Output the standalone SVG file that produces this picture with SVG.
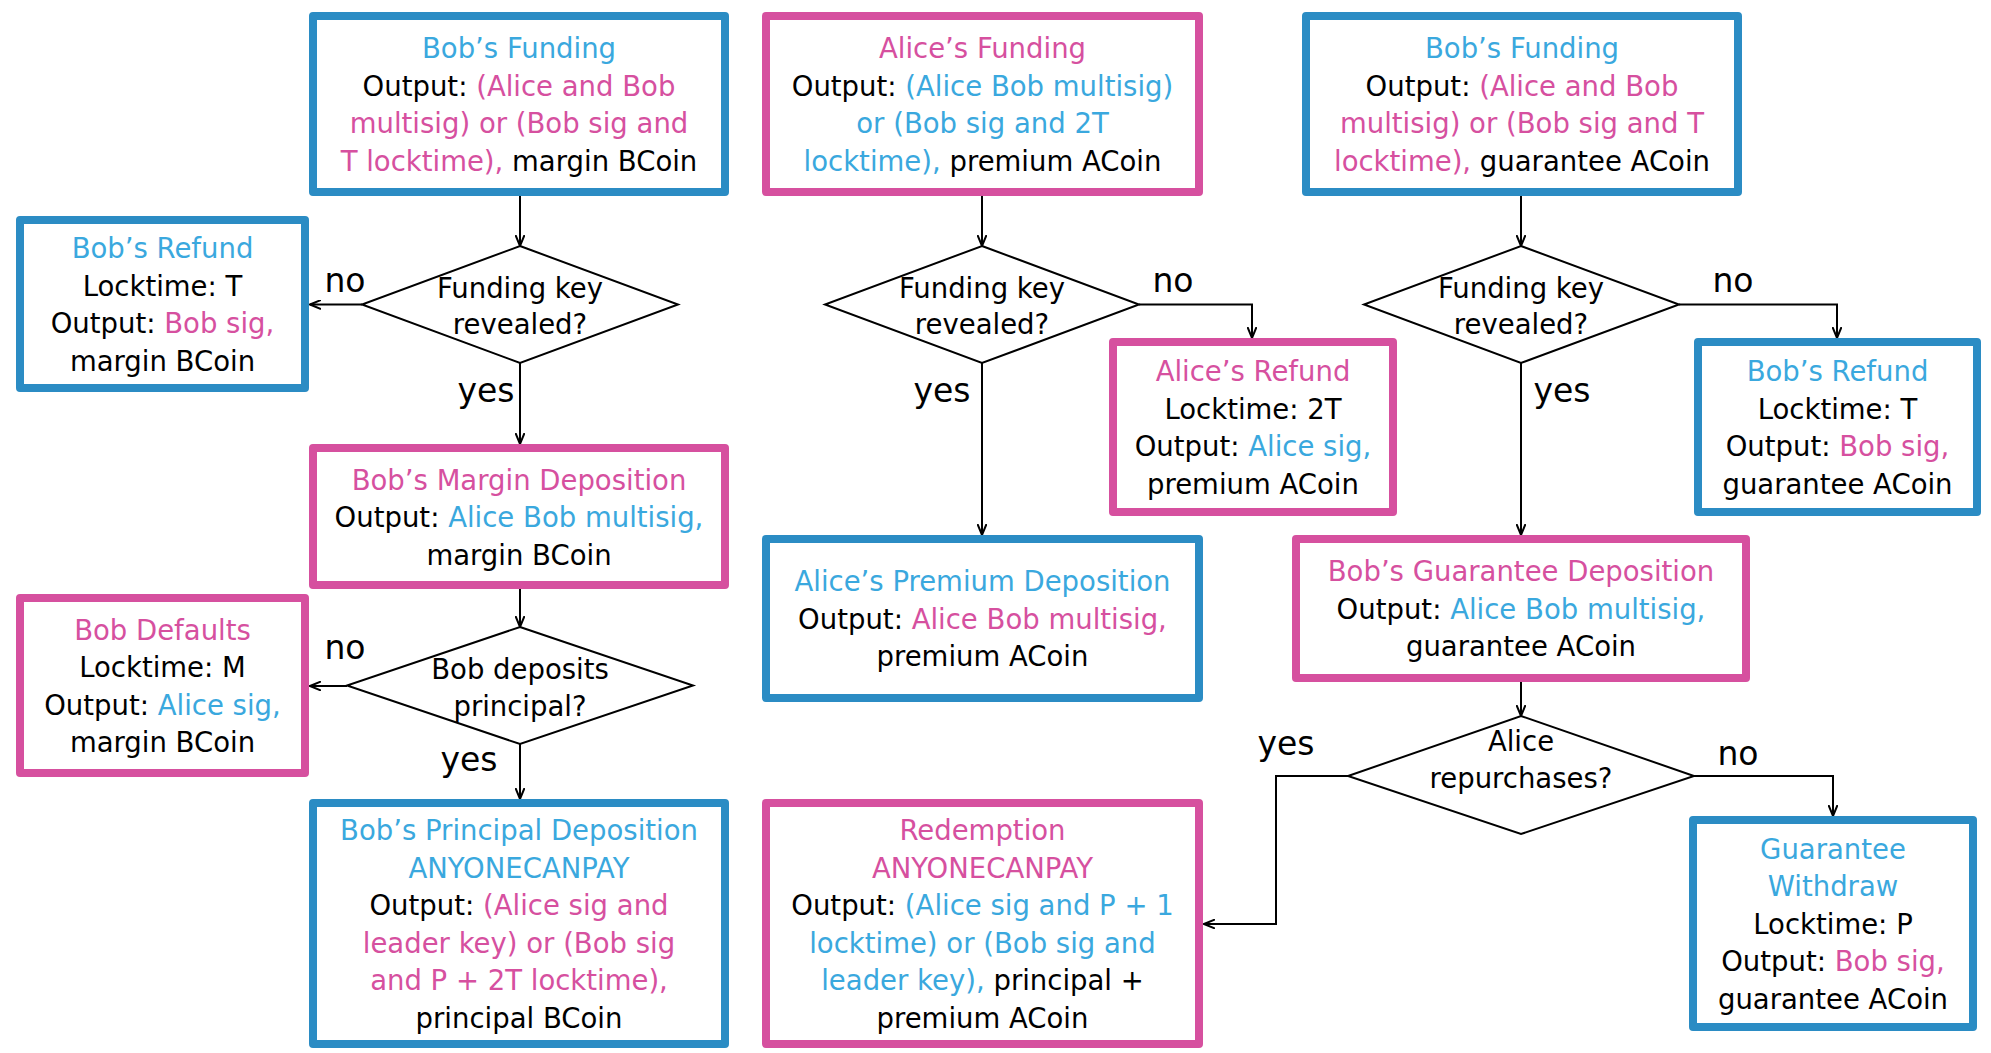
<svg xmlns="http://www.w3.org/2000/svg" width="1991" height="1053" viewBox="0 0 1991 1053">
<style>
.bb{fill:#fff;stroke:#2b8cc4;stroke-width:8;stroke-linejoin:round}
.bp{fill:#fff;stroke:#d6509f;stroke-width:8;stroke-linejoin:round}
.dia{fill:#fff;stroke:#000;stroke-width:2}
text{font-family:"DejaVu Sans",sans-serif;font-size:27.5px;text-anchor:middle;fill:#000}
.b{fill:#3aa8de}
.p{fill:#d6509f}
.lbl{font-size:33px}
.conn{fill:none;stroke:#000;stroke-width:2;marker-end:url(#arr)}
</style>
<defs>
<marker id="arr" viewBox="0 0 12 10" refX="11" refY="5" markerWidth="12" markerHeight="10" markerUnits="userSpaceOnUse" orient="auto">
<path d="M0,0.5 L11,5 L0,9.5" fill="none" stroke="#000" stroke-width="2"/>
</marker>
</defs>

<g id="connectors">
<path class="conn" d="M520,196 V246"/>
<path class="conn" d="M362,304.5 H310"/>
<path class="conn" d="M520,363 V444"/>
<path class="conn" d="M520,589 V627"/>
<path class="conn" d="M347,686 H310"/>
<path class="conn" d="M520,744 V799"/>
<path class="conn" d="M982,196 V246"/>
<path class="conn" d="M1139,304.5 H1252 V338"/>
<path class="conn" d="M982,363 V535"/>
<path class="conn" d="M1521,196 V246"/>
<path class="conn" d="M1679,304.5 H1837 V338"/>
<path class="conn" d="M1521,363 V535"/>
<path class="conn" d="M1521,682 V716"/>
<path class="conn" d="M1348,776 H1276 V924 H1204"/>
<path class="conn" d="M1694,776 H1833 V816"/>
<text class="lbl" x="345" y="292">no</text>
<text class="lbl" x="486" y="402">yes</text>
<text class="lbl" x="345" y="659">no</text>
<text class="lbl" x="469" y="771">yes</text>
<text class="lbl" x="1173" y="292">no</text>
<text class="lbl" x="942" y="402">yes</text>
<text class="lbl" x="1733" y="292">no</text>
<text class="lbl" x="1562" y="402">yes</text>
<text class="lbl" x="1286" y="755">yes</text>
<text class="lbl" x="1738" y="765">no</text>
</g>

<g id="bobs-funding-1">
<rect class="bb" x="313" y="16" width="412" height="176"/>
<text x="519" y="58"><tspan class="b">Bob’s Funding</tspan></text>
<text x="519" y="96">Output: <tspan class="p">(Alice and Bob</tspan></text>
<text x="519" y="133"><tspan class="p">multisig) or (Bob sig and</tspan></text>
<text x="519" y="171"><tspan class="p">T locktime),</tspan> margin BCoin</text>
</g>

<g id="bobs-refund-1">
<rect class="bb" x="20" y="220" width="285" height="168"/>
<text x="162.5" y="258"><tspan class="b">Bob’s Refund</tspan></text>
<text x="162.5" y="296">Locktime: T</text>
<text x="162.5" y="333">Output: <tspan class="p">Bob sig,</tspan></text>
<text x="162.5" y="371">margin BCoin</text>
</g>

<g id="decision-1">
<polygon class="dia" points="520,246 678,304.5 520,363 362,304.5"/>
<text x="520" y="298">Funding key</text>
<text x="520" y="334">revealed?</text>
</g>

<g id="bobs-margin-deposition">
<rect class="bp" x="313" y="448" width="412" height="137"/>
<text x="519" y="490"><tspan class="p">Bob’s Margin Deposition</tspan></text>
<text x="519" y="527">Output: <tspan class="b">Alice Bob multisig,</tspan></text>
<text x="519" y="565">margin BCoin</text>
</g>

<g id="decision-2">
<polygon class="dia" points="520,627 693,685.5 520,744 347,685.5"/>
<text x="520" y="679">Bob deposits</text>
<text x="520" y="716">principal?</text>
</g>

<g id="bob-defaults">
<rect class="bp" x="20" y="598" width="285" height="175"/>
<text x="162.5" y="640"><tspan class="p">Bob Defaults</tspan></text>
<text x="162.5" y="677">Locktime: M</text>
<text x="162.5" y="715">Output: <tspan class="b">Alice sig,</tspan></text>
<text x="162.5" y="752">margin BCoin</text>
</g>

<g id="bobs-principal-deposition">
<rect class="bb" x="313" y="803" width="412" height="241"/>
<text x="519" y="840"><tspan class="b">Bob’s Principal Deposition</tspan></text>
<text x="519" y="878"><tspan class="b">ANYONECANPAY</tspan></text>
<text x="519" y="915">Output: <tspan class="p">(Alice sig and</tspan></text>
<text x="519" y="953"><tspan class="p">leader key) or (Bob sig</tspan></text>
<text x="519" y="990"><tspan class="p">and P + 2T locktime),</tspan></text>
<text x="519" y="1028">principal BCoin</text>
</g>

<g id="alices-funding">
<rect class="bp" x="766" y="16" width="433" height="176"/>
<text x="982.5" y="58"><tspan class="p">Alice’s Funding</tspan></text>
<text x="982.5" y="96">Output: <tspan class="b">(Alice Bob multisig)</tspan></text>
<text x="982.5" y="133"><tspan class="b">or (Bob sig and 2T</tspan></text>
<text x="982.5" y="171"><tspan class="b">locktime),</tspan> premium ACoin</text>
</g>

<g id="decision-3">
<polygon class="dia" points="982,246 1139,304.5 982,363 825,304.5"/>
<text x="982" y="298">Funding key</text>
<text x="982" y="334">revealed?</text>
</g>

<g id="alices-refund">
<rect class="bp" x="1113" y="342" width="280" height="170"/>
<text x="1253" y="381"><tspan class="p">Alice’s Refund</tspan></text>
<text x="1253" y="419">Locktime: 2T</text>
<text x="1253" y="456">Output: <tspan class="b">Alice sig,</tspan></text>
<text x="1253" y="494">premium ACoin</text>
</g>

<g id="alices-premium-deposition">
<rect class="bb" x="766" y="539" width="433" height="159"/>
<text x="982.5" y="591"><tspan class="b">Alice’s Premium Deposition</tspan></text>
<text x="982.5" y="629">Output: <tspan class="p">Alice Bob multisig,</tspan></text>
<text x="982.5" y="666">premium ACoin</text>
</g>

<g id="redemption">
<rect class="bp" x="766" y="803" width="433" height="241"/>
<text x="982.5" y="840"><tspan class="p">Redemption</tspan></text>
<text x="982.5" y="878"><tspan class="p">ANYONECANPAY</tspan></text>
<text x="982.5" y="915">Output: <tspan class="b">(Alice sig and P + 1</tspan></text>
<text x="982.5" y="953"><tspan class="b">locktime) or (Bob sig and</tspan></text>
<text x="982.5" y="990"><tspan class="b">leader key),</tspan> principal +</text>
<text x="982.5" y="1028">premium ACoin</text>
</g>

<g id="bobs-funding-2">
<rect class="bb" x="1306" y="16" width="432" height="176"/>
<text x="1522" y="58"><tspan class="b">Bob’s Funding</tspan></text>
<text x="1522" y="96">Output: <tspan class="p">(Alice and Bob</tspan></text>
<text x="1522" y="133"><tspan class="p">multisig) or (Bob sig and T</tspan></text>
<text x="1522" y="171"><tspan class="p">locktime),</tspan> guarantee ACoin</text>
</g>

<g id="decision-4">
<polygon class="dia" points="1521,246 1679,304.5 1521,363 1364,304.5"/>
<text x="1521" y="298">Funding key</text>
<text x="1521" y="334">revealed?</text>
</g>

<g id="bobs-refund-2">
<rect class="bb" x="1698" y="342" width="279" height="170"/>
<text x="1837.5" y="381"><tspan class="b">Bob’s Refund</tspan></text>
<text x="1837.5" y="419">Locktime: T</text>
<text x="1837.5" y="456">Output: <tspan class="p">Bob sig,</tspan></text>
<text x="1837.5" y="494">guarantee ACoin</text>
</g>

<g id="bobs-guarantee-deposition">
<rect class="bp" x="1296" y="539" width="450" height="139"/>
<text x="1521" y="581"><tspan class="p">Bob’s Guarantee Deposition</tspan></text>
<text x="1521" y="619">Output: <tspan class="b">Alice Bob multisig,</tspan></text>
<text x="1521" y="656">guarantee ACoin</text>
</g>

<g id="decision-5">
<polygon class="dia" points="1521,716 1694,776 1521,834 1348,776"/>
<text x="1521" y="751">Alice</text>
<text x="1521" y="788">repurchases?</text>
</g>

<g id="guarantee-withdraw">
<rect class="bb" x="1693" y="820" width="280" height="207"/>
<text x="1833" y="859"><tspan class="b">Guarantee</tspan></text>
<text x="1833" y="896"><tspan class="b">Withdraw</tspan></text>
<text x="1833" y="934">Locktime: P</text>
<text x="1833" y="971">Output: <tspan class="p">Bob sig,</tspan></text>
<text x="1833" y="1009">guarantee ACoin</text>
</g>
</svg>
